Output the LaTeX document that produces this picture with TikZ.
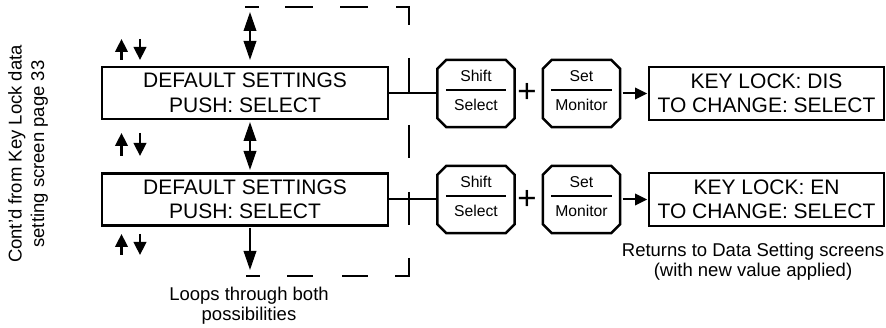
\documentclass[tikz,border=0pt]{standalone}
\usepackage{fontspec}
\setmainfont{Liberation Sans}
\usetikzlibrary{arrows.meta}
\newcommand{\octkey}[1]{\draw[keyline] ([xshift=9pt]#1.north west) -- ([xshift=-9pt]#1.north east) -- ([yshift=-9pt]#1.north east) -- ([yshift=9pt]#1.south east) -- ([xshift=-9pt]#1.south east) -- ([xshift=9pt]#1.south west) -- ([yshift=9pt]#1.south west) -- ([yshift=-9pt]#1.north west) -- cycle;
  \draw[keyline] ([xshift=8.5pt,yshift=-30pt]#1.north west) -- ([xshift=-8.5pt,yshift=-30pt]#1.north east);}
\begin{document}
\begin{tikzpicture}[x=1pt,y=-1pt,
  screen/.style={draw, line width=2.7pt, minimum width=286pt, minimum height=52pt, inner sep=0pt, align=center, font=\fontsize{21}{24.5}\selectfont},
  lockscreen/.style={screen, minimum width=235pt, minimum height=53pt},
  keybox/.style={minimum width=77pt, minimum height=67pt, inner sep=0pt},
  keyline/.style={line width=2.5pt, line join=miter},
  keytext/.style={font=\fontsize{15.7}{18}\selectfont, inner sep=0pt, anchor=base},
  plussign/.style={font=\fontsize{33}{33}\selectfont, inner sep=0pt},
  conn/.style={line width=2pt},
  dsh/.style={line width=2.5pt},
  bigarrow/.style={line width=2pt, -{Triangle[length=19pt,width=12.5pt]}},
  bigdbl/.style={line width=2pt, {Triangle[length=19pt,width=12.5pt]}-{Triangle[length=19pt,width=12.5pt]}},
  smallarrow/.style={line width=2.5pt, -{Triangle[length=13pt,width=12.5pt]}},
  keyarrow/.style={line width=2pt, -{Triangle[length=12pt,width=11.5pt]}},
  note/.style={font=\fontsize{18.5}{20.5}\selectfont, align=center, inner sep=0pt}
]
\useasboundingbox (0,0) rectangle (886,328);

% screens
\node[screen] (b1) at (245,93) {DEFAULT SETTINGS\\PUSH: SELECT};
\node[screen] (b2) at (245,199.5) {DEFAULT SETTINGS\\PUSH: SELECT};
\node[lockscreen] (r1) at (766.5,93.5) {KEY LOCK: DIS\\TO CHANGE: SELECT};
\node[lockscreen] (r2) at (766.5,199.5) {KEY LOCK: EN\\TO CHANGE: SELECT};

% keys
\node[keybox] (k1) at (476,93.5) {};
\node[keybox] (k2) at (581.5,93.5) {};
\node[keybox] (k3) at (476,199.5) {};
\node[keybox] (k4) at (581.5,199.5) {};
\octkey{k1}\octkey{k2}\octkey{k3}\octkey{k4}
\node[keytext] (k1a) at ([yshift=-22pt]k1.north) {Shift};
\node[keytext] (k1b) at ([yshift=-51pt]k1.north) {Select};
\node[keytext] (k2a) at ([yshift=-22pt]k2.north) {Set};
\node[keytext] (k2b) at ([yshift=-51pt]k2.north) {Monitor};
\node[keytext] (k3a) at ([yshift=-22pt]k3.north) {Shift};
\node[keytext] (k3b) at ([yshift=-51pt]k3.north) {Select};
\node[keytext] (k4a) at ([yshift=-22pt]k4.north) {Set};
\node[keytext] (k4b) at ([yshift=-51pt]k4.north) {Monitor};

\node[plussign] (p1) at (527,93) {+};
\node[plussign] (p2) at (527,199.5) {+};

% connectors
\draw[conn] (b1.east) -- (k1.west |- b1.east);
\draw[conn] (b2.east) -- (k3.west |- b2.east);
\draw[keyarrow, shorten <=2.5pt, shorten >=0.5pt] (k2.east) -- (r1.west);
\draw[keyarrow, shorten <=2.5pt, shorten >=0.5pt] (k4.east) -- (r2.west);

% big vertical arrows
\coordinate (t0) at (250,12);
\coordinate (t1) at (250,60);
\coordinate (m0) at (250,122);
\coordinate (m1) at (250,170);
\coordinate (u0) at (250,228);
\coordinate (u1) at (250,270);
\draw[bigdbl] (t0) -- (t1);
\draw[bigdbl] (m0) -- (m1);
\draw[bigarrow] (u0) -- (u1);

% small up/down arrows
\foreach \ya/\yb [count=\i] in {39/60, 133/156, 234/255}{
  \coordinate (su\i a) at (121.5,\yb);
  \coordinate (su\i b) at (121.5,\ya);
  \coordinate (sd\i a) at (140,\ya);
  \coordinate (sd\i b) at (140,\yb);
  \draw[smallarrow] (su\i a) -- (su\i b);
  \draw[smallarrow] (sd\i a) -- (sd\i b);
}

% dashed loop
\draw[dsh] (245,7) -- (259,7);
\draw[dsh] (285,7) -- (313,7);
\draw[dsh] (340,7) -- (368,7);
\draw[dsh] (396,7) -- (409,7) -- (409,25);
\draw[dsh] (409,58) -- (409,93);
\draw[dsh] (409,125) -- (409,158);
\draw[dsh] (409,192) -- (409,225);
\draw[dsh] (409,258) -- (409,276) -- (395,276);
\draw[dsh] (342,276) -- (368,276);
\draw[dsh] (287,276) -- (313,276);
\draw[dsh] (246,276) -- (260,276);

% notes
\node[note, anchor=north] (ret) at (753,242.8) {Returns to Data Setting screens\\(with new value applied)};
\node[note, anchor=north] (loops) at (249,286.8) {Loops through both\\possibilities};
\node[note, rotate=90, font=\fontsize{18.5}{22.5}\selectfont] (contd) at (28,154) {Cont’d from Key Lock data\\setting screen page 33};
\end{tikzpicture}
\end{document}
